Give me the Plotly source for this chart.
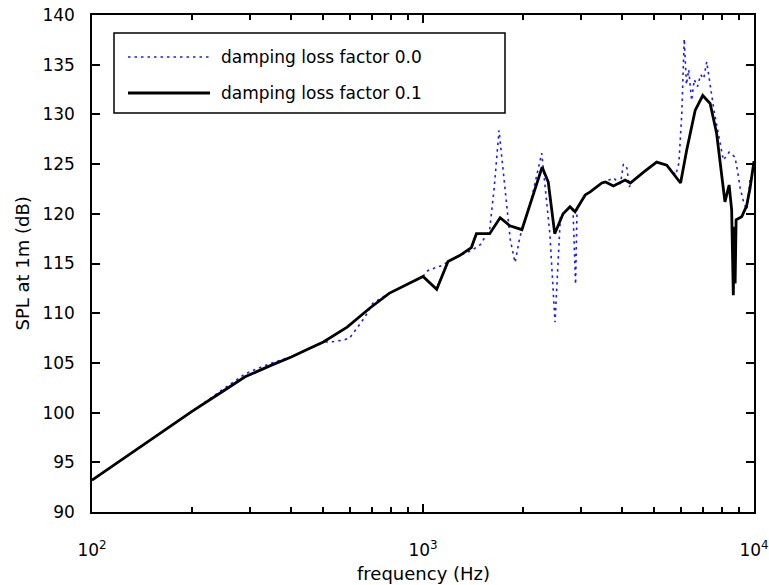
import plotly.graph_objects as go

# Frequency response, damping loss factor 0.1 (solid black)
freq_01 = [100, 150, 200, 250, 290, 350, 400, 450, 500, 590, 690, 790, 900,
           1000, 1100, 1190, 1290, 1400, 1450, 1590, 1710, 1830, 1990, 2130,
           2290, 2390, 2500, 2650, 2780, 2880, 3090, 3200, 3470, 3560, 3760,
           4080, 4230, 4640, 5080, 5450, 6000, 6260, 6640, 7000, 7370, 7710,
           8080, 8170, 8410, 8560, 8660, 8720, 8770, 8830, 9180, 9500, 9730,
           10000]
spl_01 = [93.2, 97.2, 100.1, 102.2, 103.6, 104.8, 105.6, 106.4, 107.1, 108.6,
          110.5, 112.0, 112.9, 113.7, 112.4, 115.2, 115.8, 116.6, 118.0, 118.0,
          119.6, 118.8, 118.4, 121.4, 124.7, 123.2, 118.0, 120.0, 120.7, 120.2,
          121.9, 122.2, 123.1, 123.2, 122.8, 123.4, 123.1, 124.2, 125.2, 124.9,
          123.1, 126.4, 130.4, 131.9, 131.1, 128.1, 122.7, 121.2, 122.9, 120.4,
          111.8, 118.7, 113.0, 119.4, 119.7, 120.8, 122.6, 125.3]

# Frequency response, damping loss factor 0.0 (dotted blue)
freq_00 = [100, 150, 200, 250, 290, 320, 350, 400, 450, 500, 525, 575, 600,
           620, 645, 670, 705, 790, 900, 1000, 1036, 1090, 1150, 1190, 1290,
           1400, 1490, 1590, 1640, 1697, 1749, 1790, 1835, 1897, 1963, 2057,
           2130, 2284, 2335, 2417, 2505, 2570, 2600, 2650, 2780, 2840, 2870,
           2890, 2920, 3090, 3200, 3470, 3760, 3950, 4030, 4130, 4200, 4300,
           4640, 5080, 5450, 5800, 5930, 6050, 6155, 6250, 6350, 6480, 6600,
           6750, 6900, 7050, 7196, 7370, 7570, 7830, 8080, 8410, 8760, 8940,
           9080, 9300, 9506, 9727, 10000]
spl_00 = [93.2, 97.2, 100.1, 102.4, 103.9, 104.5, 105.0, 105.6, 106.4, 107.1,
          107.1, 107.3, 107.5, 108.1, 108.9, 109.7, 111.0, 112.0, 112.9, 113.7,
          114.3, 114.6, 114.85, 115.2, 115.8, 116.3, 116.9, 118.4, 122.5, 128.4,
          124.1, 120.4, 117.4, 115.1, 117.7, 119.9, 121.6, 126.1, 123.1, 118.0,
          109.1, 117.0, 119.6, 120.0, 120.7, 120.3, 116.0, 112.9, 120.5, 121.9,
          122.2, 123.1, 123.6, 123.0, 125.0, 124.6, 122.7, 123.3, 124.2, 125.2,
          124.9, 123.9, 125.1, 130.0, 137.6, 133.0, 134.5, 131.4, 133.5, 132.8,
          134.0, 133.6, 135.3, 133.1, 130.4, 127.8, 125.4, 126.2, 125.7, 124.1,
          122.6, 121.2, 120.4, 123.4, 123.4]

legend_labels = ["damping loss factor 0.0", "damping loss factor 0.1"]
x_tick_vals = [100, 1000, 10000]
x_tick_text = ["<br>10<sup>2</sup>", "<br>10<sup>3</sup>", "<br>10<sup>4</sup>"]
x_minor_vals = [m * d for d in (100, 1000) for m in range(2, 10)]

FONT = "DejaVu Sans"
BLUE = "#1a1aff"
W, H = 769, 585
ML, MR, MT, MB = 92, 15, 15, 73
PW, PH = W - ML - MR, H - MT - MB

fig = go.Figure()
fig.add_trace(go.Scatter(x=freq_00, y=spl_00, mode="lines",
                         line=dict(color=BLUE, width=1.6, dash="2.5px,4px"),
                         showlegend=False, name=legend_labels[0]))
fig.add_trace(go.Scatter(x=freq_01, y=spl_01, mode="lines",
                         line=dict(color="black", width=2.8),
                         showlegend=False, name=legend_labels[1]))
# companion trace (invisible) so the minor-tick axis is laid out
fig.add_trace(go.Scatter(x=[freq_01[0]], y=[spl_01[0]], xaxis="x2", mode="lines",
                         showlegend=False, hoverinfo="skip", opacity=0))


def px_x(px):
    return (px - ML) / PW


def px_y(py):
    return (H - MB - py) / PH


# Boxed legend in the upper-left corner
shapes = [
    dict(type="rect", xref="paper", yref="paper",
         x0=px_x(114), x1=px_x(505), y0=px_y(113), y1=px_y(33),
         line=dict(color="black", width=1.5), fillcolor="white"),
    dict(type="line", xref="paper", yref="paper",
         x0=px_x(128), x1=px_x(210), y0=px_y(57), y1=px_y(57),
         line=dict(color=BLUE, width=1.6, dash="2.5px,4px")),
    dict(type="line", xref="paper", yref="paper",
         x0=px_x(128), x1=px_x(210), y0=px_y(93), y1=px_y(93),
         line=dict(color="black", width=2.8)),
]
annotations = [
    dict(text=legend_labels[0], xref="paper", yref="paper", x=px_x(219), y=px_y(57),
         xanchor="left", yanchor="middle", showarrow=False,
         font=dict(family=FONT, size=17, color="black")),
    dict(text=legend_labels[1], xref="paper", yref="paper", x=px_x(219), y=px_y(93),
         xanchor="left", yanchor="middle", showarrow=False,
         font=dict(family=FONT, size=17, color="black")),
    dict(text="frequency (Hz)", xref="paper", yref="paper", x=0.5, y=0,
         yshift=-61, xanchor="center", yanchor="middle", showarrow=False,
         font=dict(family=FONT, size=18, color="black")),
    dict(text="SPL at 1m (dB)", xref="paper", yref="paper", x=0, y=0.5,
         xshift=-70, xanchor="center", yanchor="middle", textangle=-90,
         showarrow=False, font=dict(family=FONT, size=18, color="black")),
]

fig.update_layout(
    width=W, height=H,
    margin=dict(l=ML, r=MR, t=MT, b=MB, autoexpand=False),
    paper_bgcolor="white", plot_bgcolor="white",
    shapes=shapes, annotations=annotations,
    xaxis=dict(type="log", range=[2, 4], tickvals=x_tick_vals, ticktext=x_tick_text,
               ticks="inside", ticklen=8, tickwidth=2, tickcolor="black",
               showline=True, linecolor="black", linewidth=1.6, mirror="ticks",
               showgrid=False, zeroline=False,
               tickfont=dict(family=FONT, size=17, color="black")),
    # second log axis on the same span carries the short minor ticks
    xaxis2=dict(type="log", range=[2, 4], overlaying="x", side="bottom",
                anchor="y", tickvals=x_minor_vals, showticklabels=False,
                ticks="inside", ticklen=5, tickwidth=1.8, tickcolor="black",
                showline=True, linecolor="black", linewidth=1.6, mirror="ticks",
                showgrid=False, zeroline=False),
    yaxis=dict(range=[90, 140], dtick=5,
               ticks="inside", ticklen=8, tickwidth=2, tickcolor="black",
               showline=True, linecolor="black", linewidth=1.6, mirror="ticks",
               showgrid=False, zeroline=False, ticksuffix="\u2002\u2009",
               tickfont=dict(family=FONT, size=17, color="black")),
)

fig.write_html("out.html")
